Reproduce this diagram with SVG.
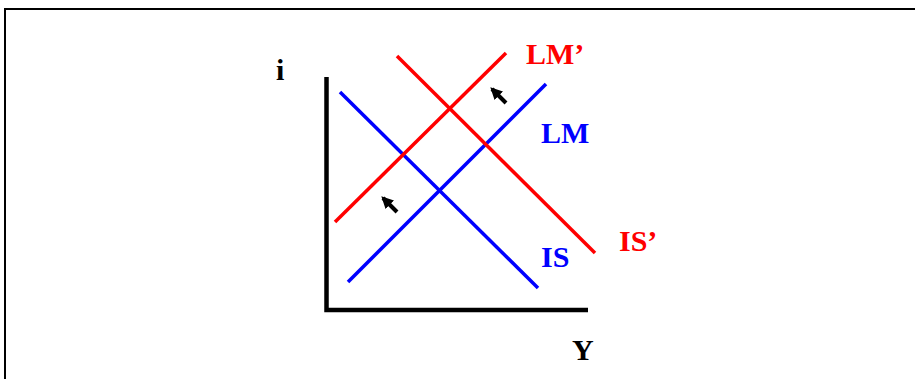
<svg xmlns="http://www.w3.org/2000/svg" width="915" height="379" viewBox="0 0 915 379">
<style>
.lbl{font-family:"Liberation Serif","Times New Roman",serif;font-weight:bold;font-size:30px}
.blue{stroke:#0000ff;stroke-width:3.5;fill:none}
.red{stroke:#ff0000;stroke-width:3.5;fill:none}
.ax{stroke:#000;stroke-width:4.5;fill:none}
.arr{stroke:#000;stroke-width:4;fill:none}
</style>
<defs>
<marker id="ah" viewBox="0 0 10 10" refX="8" refY="5" markerWidth="12" markerHeight="12" orient="auto" markerUnits="userSpaceOnUse">
<path d="M0,0 L10,5 L0,10 Z" fill="#000"/>
</marker>
</defs>
<rect x="5" y="9" width="915" height="380" fill="#fff" stroke="#000" stroke-width="2"/>
<g id="axes">
<polyline class="ax" points="326.5,77 326.5,310 588,310"/>
<text class="lbl" x="276" y="80">i</text>
<text class="lbl" x="572" y="360">Y</text>
</g>
<g id="connectors">
<line class="blue" x1="340" y1="92" x2="538" y2="288"/>
<line class="blue" x1="348" y1="282" x2="546" y2="84"/>
<line class="red" x1="335" y1="222" x2="506" y2="53"/>
<line class="red" x1="397" y1="56" x2="595" y2="253"/>
<line class="arr" x1="506" y1="103" x2="492" y2="89" marker-end="url(#ah)"/>
<line class="arr" x1="397" y1="212" x2="383" y2="198" marker-end="url(#ah)"/>
</g>
<g id="IS"><text class="lbl" x="541" y="267" fill="#0000ff">IS</text></g>
<g id="LM"><text class="lbl" x="541" y="143" fill="#0000ff">LM</text></g>
<g id="ISp"><text class="lbl" x="619" y="251" fill="#ff0000">IS’</text></g>
<g id="LMp"><text class="lbl" x="526" y="64" fill="#ff0000">LM’</text></g>
</svg>
